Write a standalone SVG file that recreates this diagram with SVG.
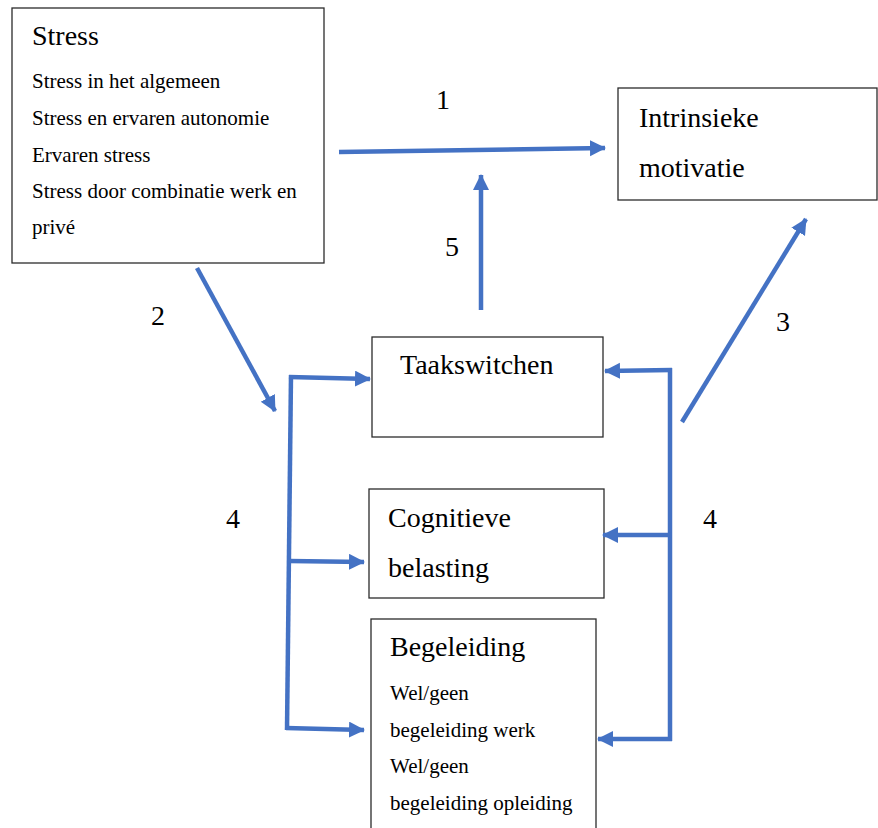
<svg xmlns="http://www.w3.org/2000/svg" width="878" height="828" viewBox="0 0 878 828">
<style>
.box{fill:#fff;stroke:#2b2b2b;stroke-width:1.3}
text{font-family:"Times New Roman",Tinos,"Liberation Serif","Noto Serif","DejaVu Serif",FreeSerif,serif;fill:#000}
.h{font-size:28px}
.s{font-size:21px}
.c{fill:none;stroke:#4472C4;stroke-width:4.5;stroke-linecap:butt}
.a{marker-end:url(#ah)}
</style>
<defs>
<marker id="ah" markerUnits="userSpaceOnUse" markerWidth="18" markerHeight="18" refX="15" refY="8" orient="auto">
<path d="M0,0 L16,8 L0,16 z" fill="#4472C4"/>
</marker>
</defs>
<rect width="878" height="828" fill="#fff"/>
<g id="stress">
<rect class="box" x="12" y="8" width="312" height="255"/>
<text class="h" x="32" y="45">Stress</text>
<text class="s" x="32" y="88">Stress in het algemeen</text>
<text class="s" x="32" y="125">Stress en ervaren autonomie</text>
<text class="s" x="32" y="162">Ervaren stress</text>
<text class="s" x="32" y="198">Stress door combinatie werk en</text>
<text class="s" x="32" y="234">privé</text>
</g>
<g id="motivatie">
<rect class="box" x="618" y="88" width="259" height="112"/>
<text class="h" x="639" y="127">Intrinsieke</text>
<text class="h" x="639" y="177">motivatie</text>
</g>
<g id="taakswitchen">
<rect class="box" x="372" y="337" width="231" height="100"/>
<text class="h" x="400" y="374">Taakswitchen</text>
</g>
<g id="cognitieve">
<rect class="box" x="369" y="489" width="235" height="109"/>
<text class="h" x="388" y="527">Cognitieve</text>
<text class="h" x="388" y="577">belasting</text>
</g>
<g id="begeleiding">
<rect class="box" x="371" y="619" width="225" height="230"/>
<text class="h" x="390" y="656">Begeleiding</text>
<text class="s" x="390" y="700">Wel/geen</text>
<text class="s" x="390" y="737">begeleiding werk</text>
<text class="s" x="390" y="773">Wel/geen</text>
<text class="s" x="390" y="810">begeleiding opleiding</text>
</g>
<g id="connectors">
<line class="c a" x1="339" y1="152" x2="605" y2="148"/>
<line class="c a" x1="481" y1="310" x2="481" y2="175"/>
<line class="c a" x1="197" y1="268" x2="275" y2="411"/>
<line class="c a" x1="682" y1="422" x2="806" y2="219"/>
<line class="c" x1="291" y1="375" x2="287" y2="730"/>
<line class="c a" x1="289" y1="377" x2="370" y2="379"/>
<line class="c a" x1="289" y1="561" x2="364" y2="562"/>
<line class="c a" x1="286" y1="728" x2="364" y2="730"/>
<line class="c" x1="670" y1="368" x2="670" y2="741"/>
<line class="c a" x1="672" y1="370" x2="605" y2="371"/>
<line class="c a" x1="672" y1="535" x2="603" y2="535"/>
<line class="c a" x1="672" y1="739" x2="598" y2="739"/>
<text class="h" x="436" y="109">1</text>
<text class="h" x="445" y="256">5</text>
<text class="h" x="151" y="325">2</text>
<text class="h" x="776" y="331">3</text>
<text class="h" x="226" y="528">4</text>
<text class="h" x="703" y="528">4</text>
</g>
</svg>
